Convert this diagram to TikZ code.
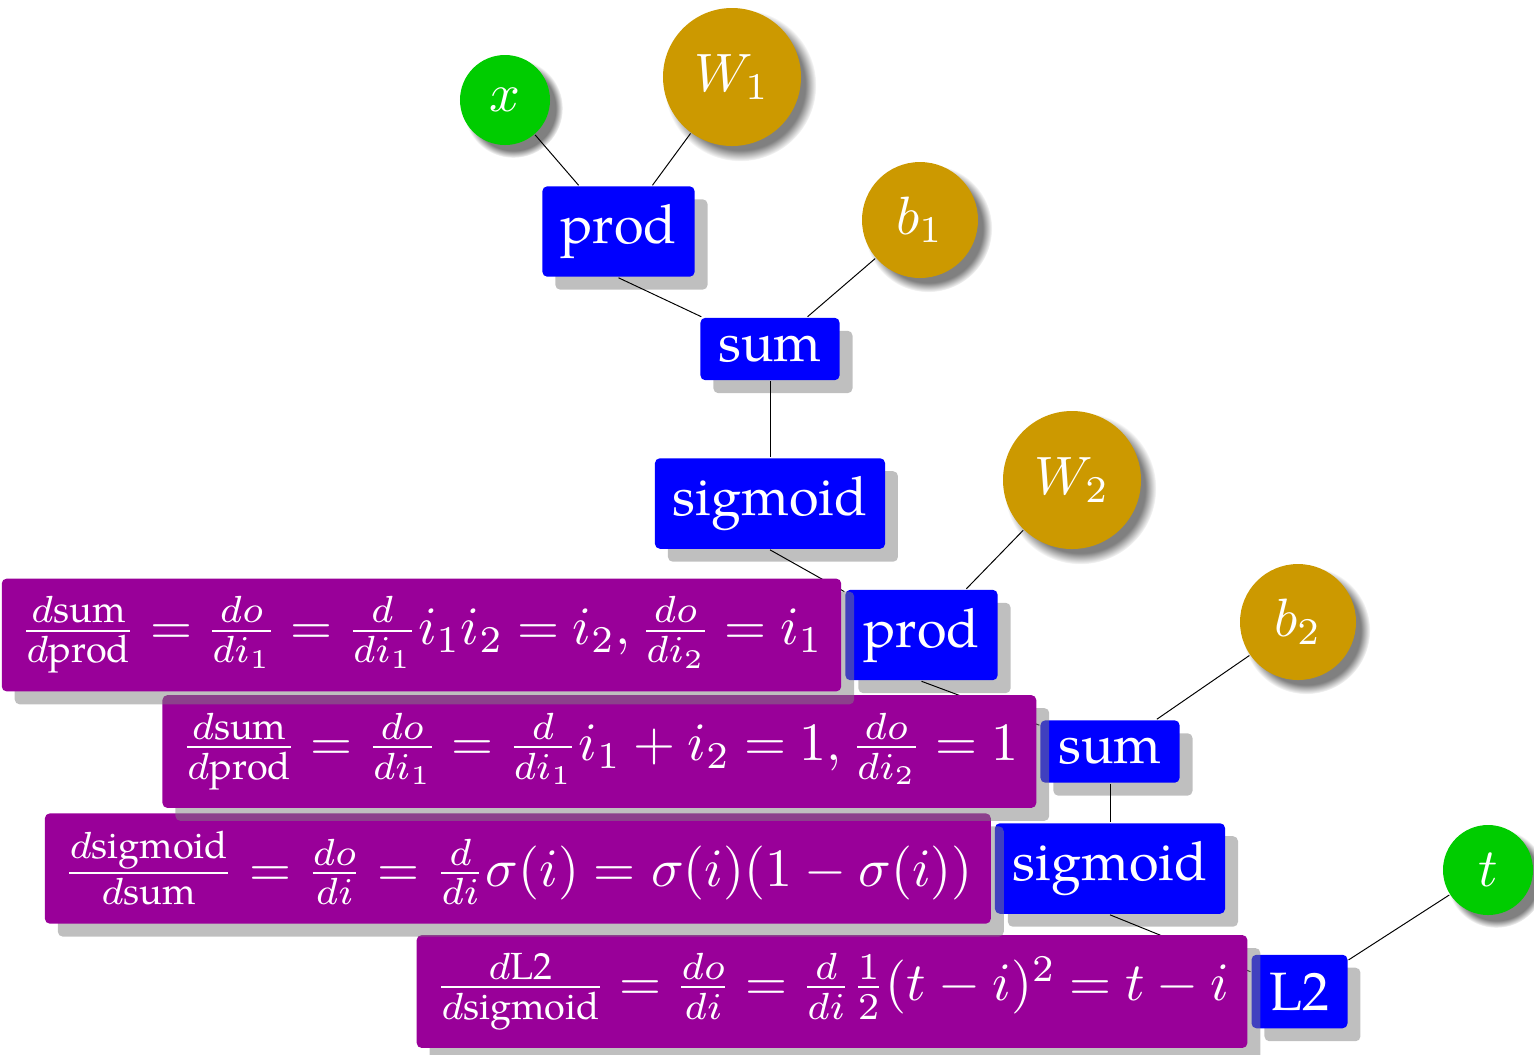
\documentclass[tikz,border=0pt]{standalone}
\usepackage{amsmath}
\usepackage[no-math]{fontspec}
\setmainfont{TeX Gyre Pagella}
\usetikzlibrary{shadows,positioning}
\definecolor{leafgold}{RGB}{204,153,0}
\definecolor{leafgreen}{RGB}{0,204,0}
\definecolor{derivpurple}{RGB}{153,0,153}
\tikzset{
  basetext/.style={font=\fontsize{10}{12}\selectfont, text=white},
  opbox/.style={basetext, rectangle, inner sep=3.333pt, rounded corners=0.9pt, fill=blue,
    drop shadow={shadow xshift=2.4pt, shadow yshift=-2.4pt}},
  derivbox/.style={basetext, rectangle, inner sep=3.333pt, rounded corners=0.9pt, fill=derivpurple,
    drop shadow={shadow xshift=2.4pt, shadow yshift=-2.4pt}},
  tightmath/.style={execute at begin node={\thickmuskip=4.5mu plus 5mu}},
  leafnode/.style={basetext, circle, inner sep=0pt,
    circular drop shadow={shadow xshift=1.4pt, shadow yshift=-1.4pt}},
  inputleaf/.style={leafnode, fill=leafgreen, minimum size=16.67pt},
  bigparam/.style={leafnode, fill=leafgold, minimum size=25.56pt},
  smallparam/.style={leafnode, fill=leafgold, minimum size=21.48pt},
  link/.style={draw=black, line width=0.18pt}
}
\begin{document}
\begin{tikzpicture}[x=0.18519pt,y=-0.18519pt]
\useasboundingbox (0,0) rectangle (1534,1054);
% leaves
\node[inputleaf] (x) at (505,100) {$x$};
\node[bigparam] (W1) at (732,77) {$W_1$};
\node[smallparam] (b1) at (920,220) {$b_1$};
\node[bigparam] (W2) at (1072,480) {$W_2$};
\node[smallparam] (b2) at (1298,622) {$b_2$};
\node[inputleaf] (t) at (1488,870) {$t$};
% operations
\node[opbox] (prodA) at (618.5,231.5) {prod};
\node[opbox] (sumA) at (770,349) {sum};
\node[opbox] (sigA) at (770,503.5) {sigmoid};
\node[opbox] (prodB) at (921.5,635) {prod};
\node[opbox] (sumB) at (1110,751.5) {sum};
\node[opbox] (sigB) at (1110,868.5) {sigmoid};
\node[opbox] (L2) at (1299.5,991.5) {L2};
% connectors
\draw[link] (x) -- (prodA);
\draw[link] (W1) -- (prodA);
\draw[link] (prodA.south) -- (sumA);
\draw[link] (b1) -- (sumA);
\draw[link] (sumA) -- (sigA);
\draw[link] (sigA.south) -- (prodB);
\draw[link] (W2) -- (prodB);
\draw[link] (prodB.south) -- (sumB);
\draw[link] (b2) -- (sumB);
\draw[link] (sumB) -- (sigB);
\draw[link] (sigB.south) -- (L2);
\draw[link] (t) -- (L2);
% derivatives
\node[derivbox, tightmath, left=0.37pt of L2] (dL2)
  {$\frac{d\text{L2}}{d\text{sigmoid}}=\frac{do}{di}=\frac{d}{di}\frac{1}{2}(t-i)^2=t-i$};
\node[derivbox, left=0.37pt of sigB] (dsig)
  {$\frac{d\text{sigmoid}}{d\text{sum}}=\frac{do}{di}=\frac{d}{di}\sigma(i)=\sigma(i)(1-\sigma(i))$};
\node[derivbox, tightmath, left=0.37pt of sumB] (dsum)
  {$\frac{d\text{sum}}{d\text{prod}}=\frac{do}{di_1}=\frac{d}{di_1}i_1+i_2=1, \frac{do}{di_2}=1$};
\node[derivbox, tightmath, left=0.37pt of prodB] (dprod)
  {$\frac{d\text{sum}}{d\text{prod}}=\frac{do}{di_1}=\frac{d}{di_1}i_1i_2=i_2, \frac{do}{di_2}=i_1$};
\end{tikzpicture}
\end{document}
